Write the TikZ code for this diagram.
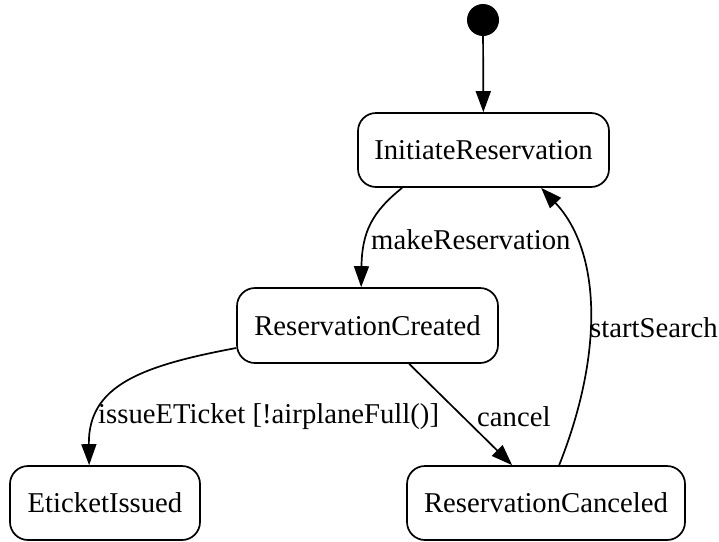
\documentclass[tikz,border=0pt]{standalone}
\usepackage{fontspec}
\setmainfont{Liberation Serif}
\usetikzlibrary{arrows.meta}
\begin{document}
\begin{tikzpicture}[x=1pt,y=-1pt,
  state/.style={draw,line width=1.7pt,rounded corners=18pt,inner sep=0pt},
  edge/.style={line width=1.7pt,-{Triangle[length=21pt,width=15pt]}},
  lbl/.style={inner sep=0pt,anchor=west},
  every node/.style={font=\fontsize{28.7}{34}\selectfont}]
\useasboundingbox (0,0) rectangle (719,541);

% states
\node[circle,fill=black,minimum size=32pt,inner sep=0pt] (start) at (483,20) {};
\node[state,minimum width=251pt,minimum height=74pt] (init) at (483.5,150) {InitiateReservation};
\node[state,minimum width=261pt,minimum height=75pt] (created) at (367.5,325.5) {ReservationCreated};
\node[state,minimum width=190pt,minimum height=74pt] (issued) at (105,503) {EticketIssued};
\node[state,minimum width=278pt,minimum height=74pt] (canceled) at (546,503) {ReservationCanceled};

% transitions
\draw[edge] (start) -- (init);
\draw[edge] ([xshift=45pt]init.south west) .. controls (372,212) and (362,232) .. ([xshift=125pt]created.north west);
\node[lbl] (lmake) at (371,240) {makeReservation};

\draw[edge] ([yshift=-22.5pt]created.west) .. controls (140,366) and (88,386) .. ([xshift=80pt]issued.north west);
\node[lbl] (lissue) at (98,417) {issueETicket [!airplaneFull()]};

\draw[edge] ([xshift=173pt]created.south west) -- ([xshift=106pt]canceled.north west);
\node[lbl] (lcancel) at (477,417) {cancel};

\draw[edge] ([xshift=153pt]canceled.north west) .. controls (605,350) and (600,250) .. ([xshift=184pt]init.south west);
\node[lbl] (lsearch) at (590,328) {startSearch};
\end{tikzpicture}
\end{document}
